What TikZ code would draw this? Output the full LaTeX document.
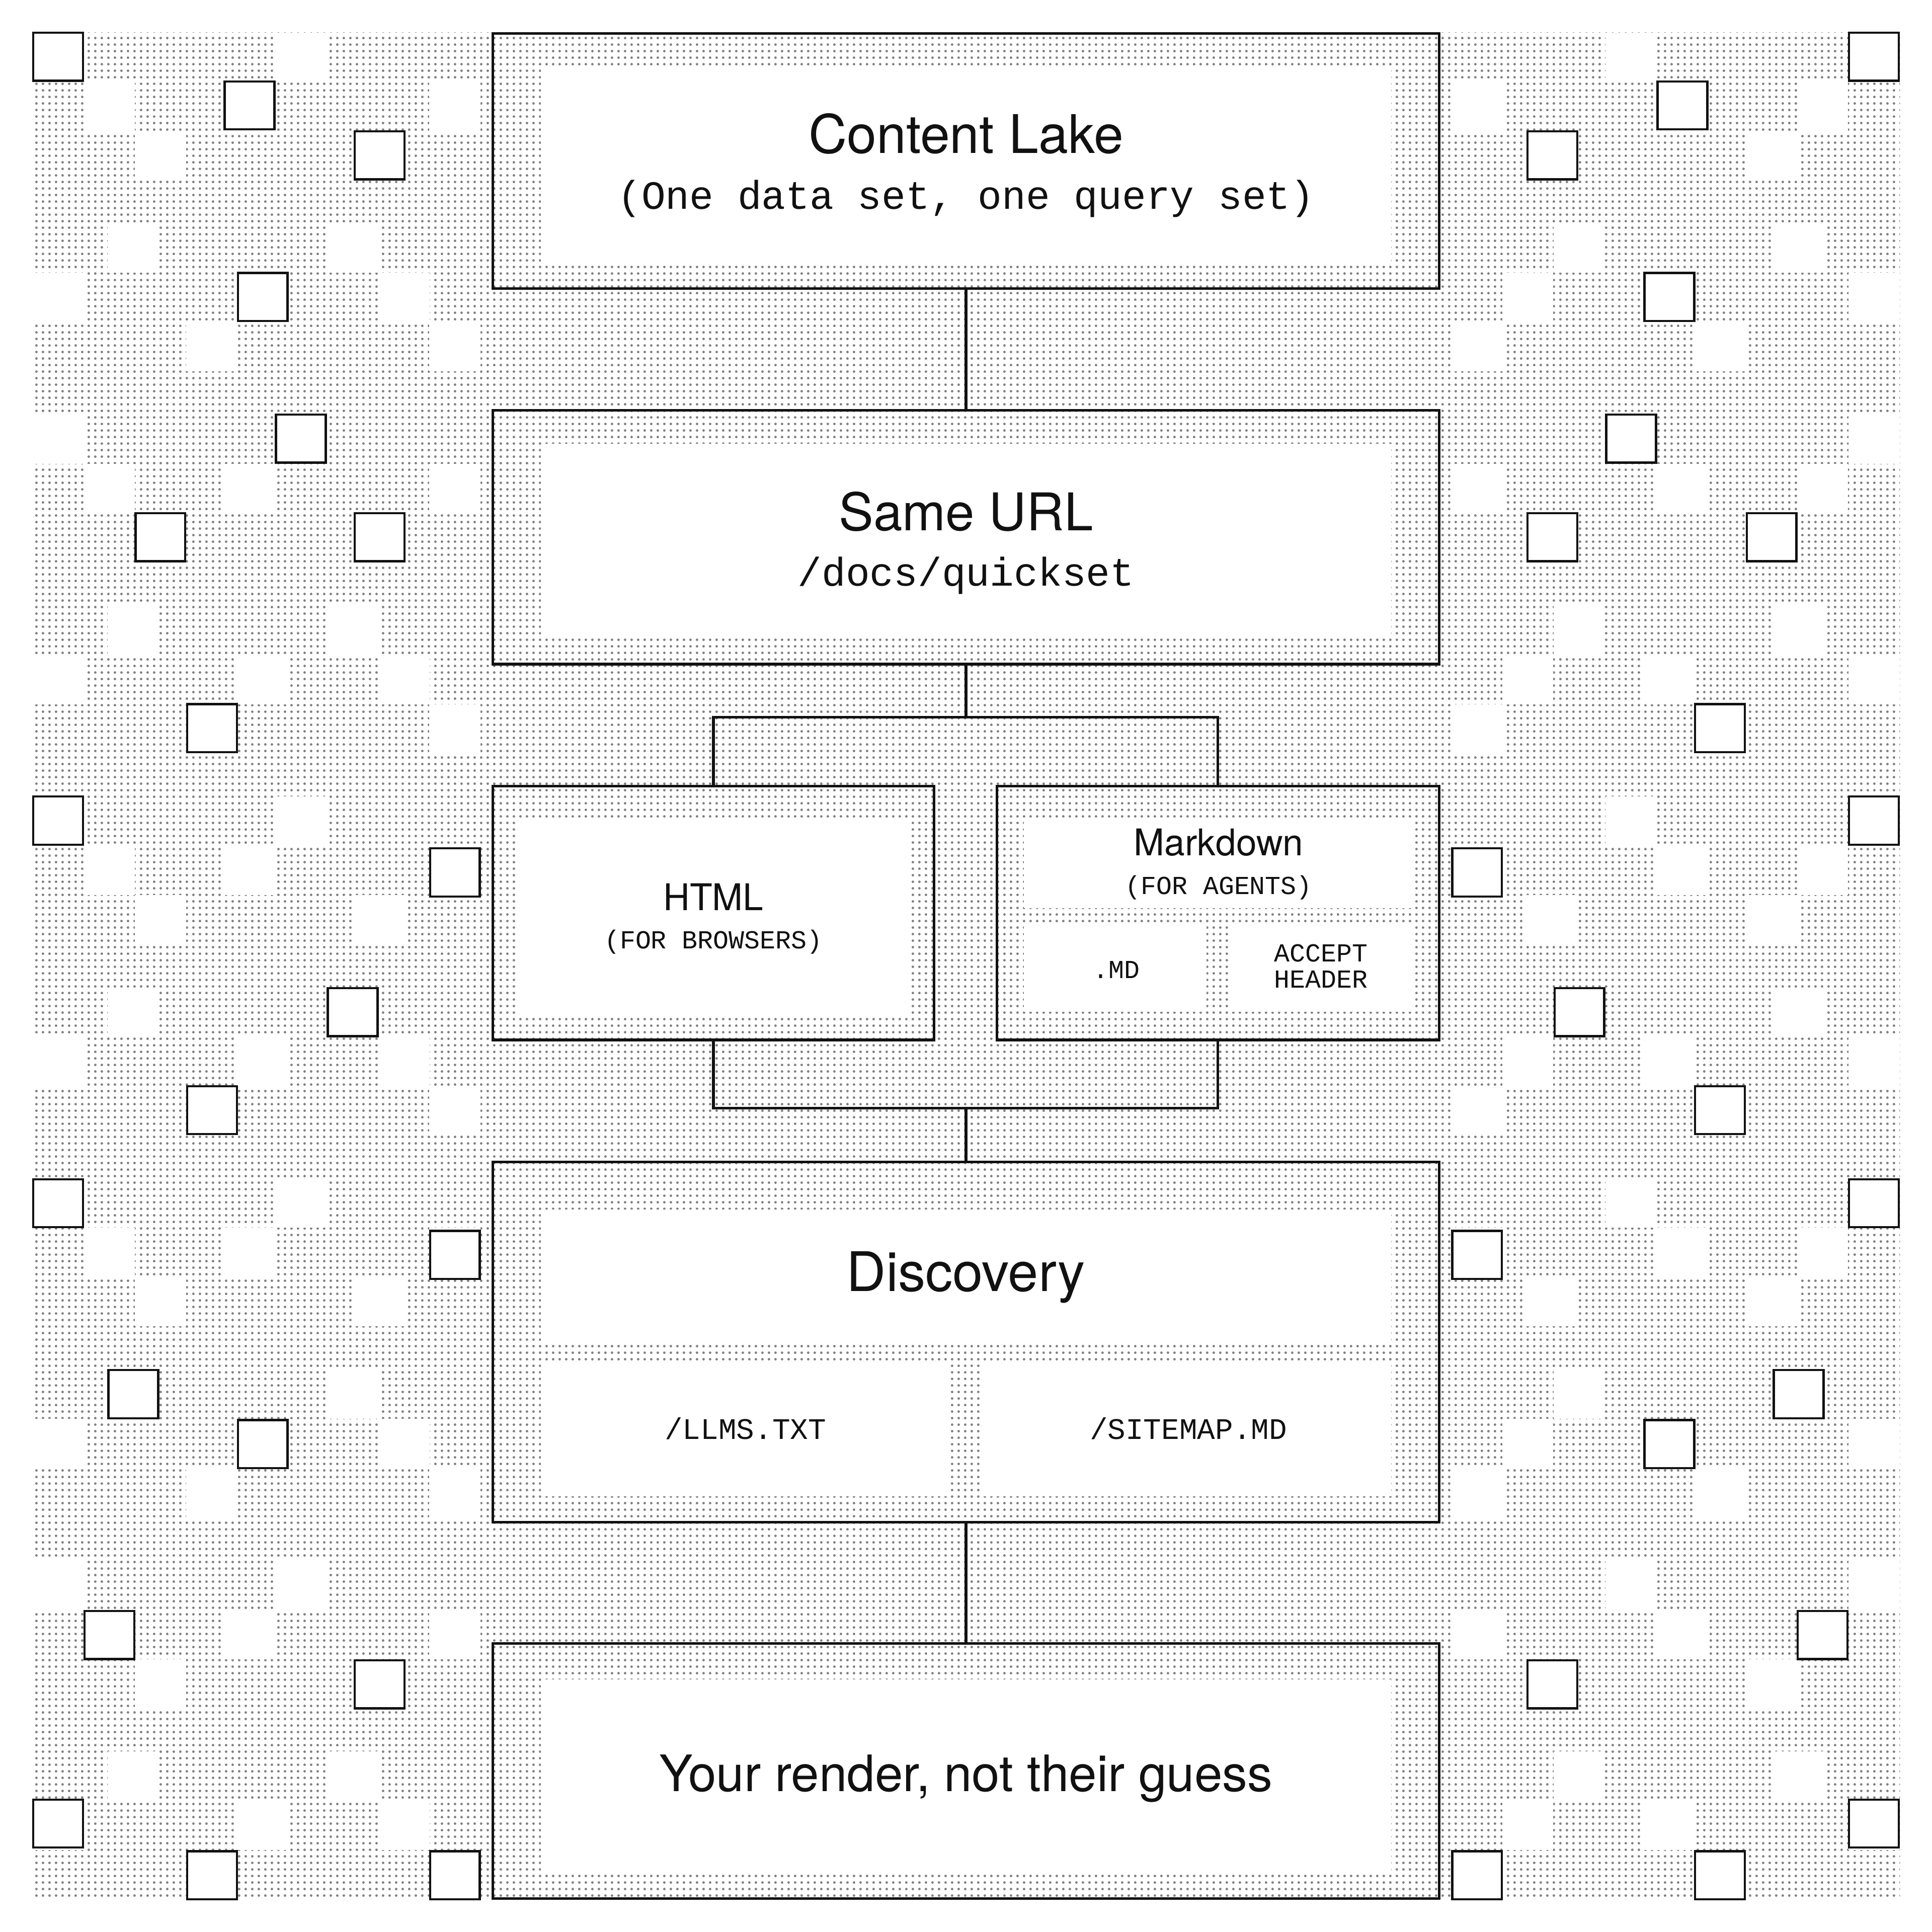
\documentclass[tikz,border=0pt]{standalone}
\usepackage{fontspec}
\setmainfont{TeX Gyre Heros}
\setmonofont{Liberation Mono}
\usetikzlibrary{patterns}

\definecolor{dotgray}{HTML}{808080}
\definecolor{ink}{HTML}{111111}

\pgfdeclarepatternformonly{bgdots}{\pgfqpoint{0pt}{0pt}}{\pgfqpoint{1.556pt}{1.556pt}}{\pgfqpoint{1.556pt}{1.556pt}}{%
  \pgfpathcircle{\pgfqpoint{0.778pt}{0.778pt}}{0.3pt}\pgfusepath{fill}}

\tikzset{
  outerbox/.style={draw=ink, line width=0.6pt, inner sep=0pt},
  panel/.style={fill=white, inner sep=0pt},
  tile/.style={fill=white, draw=ink, line width=0.5pt},
  wire/.style={draw=ink, line width=0.6pt},
  bigtitle/.style={font=\fontsize{12}{14}\selectfont, text=ink, anchor=base, inner sep=0pt},
  smalltitle/.style={font=\fontsize{8.5}{10}\selectfont, text=ink, anchor=base, inner sep=0pt},
  bigcode/.style={font=\ttfamily\fontsize{9.25}{11}\selectfont, text=ink, anchor=base, inner sep=0pt},
  midcode/.style={font=\ttfamily\fontsize{6.9}{8}\selectfont, text=ink, anchor=base, inner sep=0pt},
  smallcode/.style={font=\ttfamily\fontsize{6}{6.05}\selectfont, text=ink, anchor=base, inner sep=0pt, align=center}
}

\begin{document}
\begin{tikzpicture}[x=0.1mm, y=-0.1mm]
  \useasboundingbox[fill=white] (0,0) rectangle (1568,1568);

  \fill[pattern=bgdots, pattern color=dotgray] (26,26.5) rectangle (1542,1541.5);

  \foreach \by in {26.5,336.5,646.5,956.5,1266.5}{
    \foreach \dy/\cx in {0/26,0/223.4,40/68,40/182.3,40/348.4,80/109.4,80/287.8,155/87.2,155/265.6,195/26,195/193,195/307.3,235/151,235/348.4}{
      \fill[white] (\cx,\by+\dy) rectangle ++(41.6,40);
      \fill[white] (1568-\cx,\by+\dy) rectangle ++(-41.6,40);
    }
  }

  \foreach \tx/\ty in {27/26.5,182.3/66,287.8/106.5,193/221.5,224/336.5,110/416.5,287.8/416.5,151.8/571.5,27/646.5,349/688.5,266/802,151.8/881.5,27/957,349/999,88/1112,193/1152.5,68.5/1307.5,287.8/1347.5,27/1460.5,151.8/1502.5,349/1502.5}{
    \draw[tile] (\tx,\ty) rectangle ++(40.4,39);
    \draw[tile] (1568-\tx,\ty) rectangle ++(-40.4,39);
  }

  \node[outerbox, minimum width=76.8mm, minimum height=20.7mm] (lake) at (784,130.5) {};
  \node[panel, minimum width=69mm, minimum height=15.9mm] (lakein) at (784,133.5) {};
  \node[bigtitle, font=\fontsize{12.3}{14}\selectfont] (laketitle) at (784,124.5) {Content Lake};
  \node[bigcode] (lakesub) at (784,169.5) {(One data set, one query set)};

  \node[outerbox, minimum width=76.8mm, minimum height=20.6mm] (url) at (784,436) {};
  \node[panel, minimum width=69mm, minimum height=15.8mm] (urlin) at (784,439) {};
  \node[bigtitle] (urltitle) at (784,430.5) {Same URL};
  \node[bigcode] (urlsub) at (784,475.5) {/docs/quickset};

  \node[outerbox, minimum width=35.8mm, minimum height=20.6mm] (html) at (579,741) {};
  \node[panel, minimum width=31.8mm, minimum height=15.9mm] (htmlin) at (579,743.5) {};
  \node[smalltitle] (htmltitle) at (579,739) {HTML};
  \node[smallcode] (htmlsub) at (579,770) {(FOR BROWSERS)};

  \node[outerbox, minimum width=35.9mm, minimum height=20.6mm] (md) at (988.5,741) {};
  \node[panel, minimum width=31.6mm, minimum height=7.3mm] (mdin) at (989,700.5) {};
  \node[panel, minimum width=14.8mm, minimum height=7mm] (mdfile) at (905,786) {};
  \node[panel, minimum width=14.9mm, minimum height=7mm] (mdhead) at (1072.5,786) {};
  \node[smalltitle] (mdtitle) at (989,694.5) {Markdown};
  \node[smallcode] (mdsub) at (989,726) {(FOR AGENTS)};
  \node[smallcode] (mdfiletext) at (906,794) {.MD};
  \node[smallcode, anchor=center] (mdheadtext) at (1072,784.2) {ACCEPT\\HEADER};

  \node[outerbox, minimum width=76.8mm, minimum height=29.25mm] (disc) at (784,1089.25) {};
  \node[panel, minimum width=69mm, minimum height=10.9mm] (discin) at (784,1036) {};
  \node[panel, minimum width=33mm, minimum height=10.8mm] (llms) at (604,1160.5) {};
  \node[panel, minimum width=33.1mm, minimum height=10.8mm] (sitemap) at (963.5,1160.5) {};
  \node[bigtitle, font=\fontsize{12.6}{14}\selectfont] (disctitle) at (784,1048) {Discovery};
  \node[midcode] (llmstext) at (605,1168) {/LLMS.TXT};
  \node[midcode] (sitemaptext) at (964.5,1168) {/SITEMAP.MD};

  \node[outerbox, minimum width=76.8mm, minimum height=20.7mm] (render) at (784,1437.2) {};
  \node[panel, minimum width=69mm, minimum height=15.7mm] (renderin) at (784,1441.5) {};
  \node[bigtitle, font=\fontsize{11.6}{14}\selectfont] (rendertitle) at (784,1453.7) {Your render, not their guess};

  \coordinate (join) at (784,899.5);
  \draw[wire] (lake.south) -- (url.north);
  \draw[wire] (url.south) -- ++(0,42) coordinate (fork) -| (html.north);
  \draw[wire] (fork) -| (md.north);
  \draw[wire] (html.south) |- (join) -| (md.south);
  \draw[wire] (join) -- (disc.north);
  \draw[wire] (disc.south) -- (render.north);
\end{tikzpicture}
\end{document}
